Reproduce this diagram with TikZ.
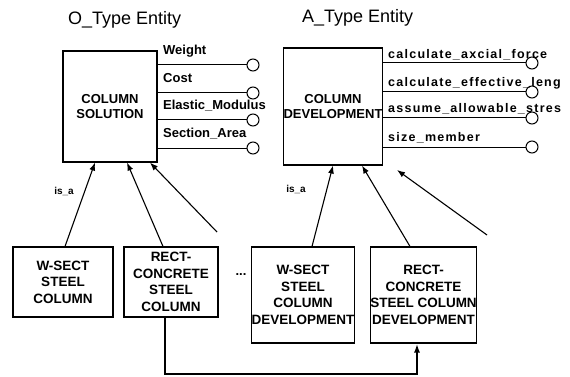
\documentclass[tikz,border=0pt]{standalone}
\usepackage{fontspec}
\setmainfont{Liberation Sans}
\newfontfamily\wideops[LetterSpace=10]{Liberation Sans}
\usetikzlibrary{arrows.meta}

\begin{document}
\begin{tikzpicture}[x=1pt,y=-1pt,
  % 方框的style
  entbox/.style={draw,line width=1.1pt,inner sep=0pt,align=center,font=\fontsize{13}{15}\selectfont\bfseries},
  subbox/.style={draw,line width=1.1pt,inner sep=0pt,align=center,font=\fontsize{13.5}{16.5}\selectfont\bfseries},
  % 属性的小圆和文字
  attr/.style={draw,circle,line width=1pt,minimum size=12pt,inner sep=0pt},
  attr line/.style={line width=1pt},
  attr label/.style={anchor=base west,inner sep=0pt,font=\fontsize{13}{15}\selectfont\bfseries},
  op label/.style={anchor=base west,inner sep=0pt,font=\wideops\fontsize{12.5}{15}\selectfont\bfseries},
  titletext/.style={anchor=base west,inner sep=0pt,font=\fontsize{18}{21}\selectfont},
  isa/.style={inner sep=0pt,font=\fontsize{10}{11}\selectfont\bfseries},
  % 箭头
  isa arrow/.style={line width=1.1pt,-{Latex[length=8pt,width=6pt]}},
  link/.style={line width=2.2pt,-{Latex[length=9pt,width=6pt]}}
]

  \useasboundingbox (0,0) rectangle (570,377);

  % 标题
  \node[titletext] (otitle) at (68,25) {O\_Type Entity};
  \node[titletext] (atitle) at (302,23) {A\_Type Entity};

  % 上面的两个方框
  \node[entbox,minimum width=94pt,minimum height=111pt] (sol) at (110,106.5) {COLUMN\\SOLUTION};
  \node[entbox,minimum width=98pt,minimum height=117pt] (dev) at (333,106.5) {COLUMN\\DEVELOPMENT};

  % 左边的属性
  \node[attr] (wt) at (253,65) {};
  \node[attr] (cost) at (253,93) {};
  \node[attr] (em) at (253,120) {};
  \node[attr] (sa) at (253,148) {};
  \draw[attr line] (sol.east |- wt) -- (wt);
  \draw[attr line] (sol.east |- cost) -- (cost);
  \draw[attr line] (sol.east |- em) -- (em);
  \draw[attr line] (sol.east |- sa) -- (sa);
  \node[attr label] (wt-txt) at (163,54.5) {Weight};
  \node[attr label] (cost-txt) at (163,82.5) {Cost};
  \node[attr label] (em-txt) at (163,109.5) {Elastic\_Modulus};
  \node[attr label] (sa-txt) at (163,137.5) {Section\_Area};

  % 右边的操作
  \node[attr] (caf) at (532,63) {};
  \node[attr] (cel) at (532,92) {};
  \node[attr] (aas) at (532,118) {};
  \node[attr] (szm) at (532,147) {};
  \draw[attr line] (dev.east |- caf) -- (caf);
  \draw[attr line] (dev.east |- cel) -- (cel);
  \draw[attr line] (dev.east |- aas) -- (aas);
  \draw[attr line] (dev.east |- szm) -- (szm);
  \node[op label] (caf-txt) at (388,59) {calculate\_axcial\_force};
  \node[op label] (cel-txt) at (388,87) {calculate\_effective\_leng};
  \node[op label] (aas-txt) at (388,113) {assume\_allowable\_stres};
  \node[op label] (szm-txt) at (388,142) {size\_member};

  % 下面的方框
  \node[subbox,minimum width=100pt,minimum height=70pt] (wsc) at (63,282) {W-SECT\\STEEL\\COLUMN};
  \node[subbox,minimum width=94pt,minimum height=70pt] (rsc) at (171,282) {RECT-\\CONCRETE\\STEEL\\COLUMN};
  \node[subbox,minimum width=100pt,minimum height=96pt] (wscd) at (303,295) {W-SECT\\STEEL\\COLUMN\\DEVELOPMENT};
  \node[subbox,minimum width=105pt,minimum height=96pt] (rscd) at (423.5,295) {RECT-\\CONCRETE\\STEEL COLUMN\\DEVELOPMENT};
  \node[font=\fontsize{13}{15}\selectfont\bfseries] (dots) at (241,275) {...};

  % is_a 箭头
  \node[isa] (isa-o) at (64,191) {is\_a};
  \node[isa] (isa-a) at (296,189) {is\_a};
  \coordinate (free1) at (217,232);
  \coordinate (free2) at (487,235);
  \coordinate (free3) at (397,170);
  \draw[isa arrow] ([xshift=2pt]wsc.north) -- ([xshift=-15pt]sol.south);
  \draw[isa arrow] ([xshift=-8pt]rsc.north) -- ([xshift=17pt]sol.south);
  \draw[isa arrow] (free1) -- ([xshift=40pt]sol.south);
  \draw[isa arrow] ([xshift=9pt]wscd.north) -- (dev.south);
  \draw[isa arrow] ([xshift=-13.5pt]rscd.north) -- ([xshift=29pt]dev.south);
  \draw[isa arrow] (free2) -- (free3);

  % 粗的连线
  \coordinate (bend) at (165,374);
  \draw[link] (rsc.south -| bend) -- (bend) -| ([xshift=-6.5pt]rscd.south);

\end{tikzpicture}
\end{document}
